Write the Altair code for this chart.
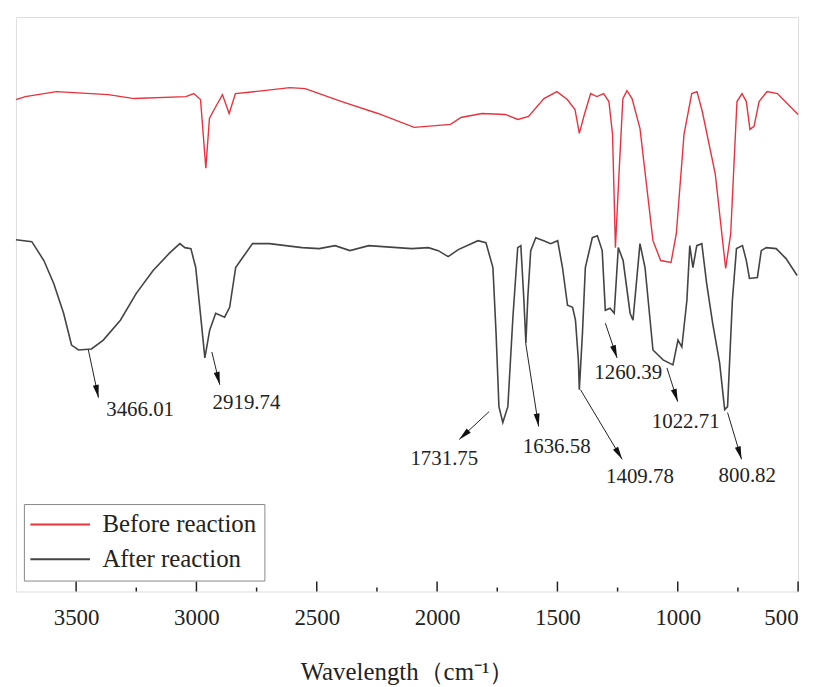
import altair as alt
import pandas as pd

# ---- data (wavenumber cm-1, transmittance a.u.) ----
before_wn = [3750, 3711, 3582, 3366, 3259, 3044, 3011, 2983, 2961, 2946, 2924, 2892, 2864, 2838,
             2720, 2612, 2548, 2396, 2246, 2095, 1944, 1901, 1814, 1717, 1664, 1620, 1556, 1502,
             1459, 1427, 1409, 1388, 1362, 1336, 1308, 1286, 1271, 1259, 1243, 1228, 1211, 1190,
             1157, 1103, 1071, 1028, 1006, 974, 942, 920, 898, 844, 801, 780, 754, 733, 715, 700,
             683, 662, 629, 586, 500]
before_t = [495, 498, 503, 500, 496, 498, 501, 495, 426, 476, 486, 500, 481, 501,
            504, 507, 506, 493, 481, 467, 470, 477, 481, 480, 475, 478, 496, 503,
            495, 485, 461, 480, 501, 498, 501, 493, 460, 346, 426, 496, 504, 496,
            466, 353, 333, 331, 360, 460, 501, 503, 483, 420, 325, 360, 493, 501, 493, 465,
            468, 493, 503, 501, 480]

after_wn = [3750, 3684, 3634, 3593, 3552, 3519, 3490, 3436, 3387, 3316, 3250, 3180, 3110, 3069,
            3048, 3023, 3003, 2982, 2965, 2945, 2920, 2883, 2862, 2837, 2808, 2767, 2697, 2561,
            2490, 2424, 2362, 2284, 2106, 2036, 1995, 1954, 1912, 1830, 1797, 1768, 1755, 1743,
            1727, 1706, 1685, 1665, 1652, 1640, 1631, 1623, 1611, 1590, 1557, 1528, 1499, 1479,
            1458, 1437, 1425, 1413, 1409, 1396, 1384, 1355, 1334, 1314, 1301, 1281, 1264, 1247,
            1227, 1198, 1186, 1157, 1136, 1103, 1061, 1020, 999, 983, 962, 950, 937, 921, 900,
            880, 855, 826, 805, 793, 773, 756, 731, 715, 702, 669, 653, 632, 591, 550, 504]
after_t = [354, 352, 333, 310, 280, 248, 243, 244, 253, 273, 300, 323, 341, 350,
           346, 345, 326, 276, 235, 263, 280, 276, 286, 326, 336, 350, 350, 346,
           345, 348, 343, 348, 345, 346, 343, 337, 344, 353, 351, 326, 260, 186,
           170, 186, 276, 346, 348, 296, 250, 296, 343, 356, 353, 350, 353, 326,
           288, 286, 273, 233, 203, 260, 326, 356, 358, 343, 283, 285, 280, 346,
           333, 280, 273, 350, 326, 243, 233, 228, 253, 246, 293, 348, 326, 348, 350,
           310, 270, 230, 183, 186, 293, 345, 348, 333, 315, 316, 343, 346, 345, 335, 318]

series_names = ["Before reaction", "After reaction"]
series_colors = ["#e8323c", "#444444"]

peak_labels = ["3466.01", "2919.74", "1731.75", "1636.58", "1409.78", "1260.39", "1022.71", "800.82"]
arrow_x1 = [3449, 2936, 1784, 1632, 1404, 1301, 1045, 793]
arrow_y1 = [243, 241, 181, 250, 203, 270, 225, 180]
arrow_x2 = [3407, 2903, 1908, 1578, 1231, 1252, 1000, 735]
arrow_y2 = [195, 208, 153, 166, 133, 235, 191, 133]
arrow_angle = [168, 166, 227, 171, 149, 161, 162, 163]
label_x = [3234, 2792, 1970, 1503, 1157, 1206, 967, 711]
label_y = [183, 190, 133, 145, 115, 220, 171, 116]

major_ticks = [3500, 3000, 2500, 2000, 1500, 1000, 500]
minor_ticks = [3250, 2750, 2250, 1750, 1250, 750]

W, H = 787, 578
SERIF = "Liberation Serif"

df_before = pd.DataFrame({"wn": before_wn, "t": before_t, "series": series_names[0]})
df_after = pd.DataFrame({"wn": after_wn, "t": after_t, "series": series_names[1]})
df_arrows = pd.DataFrame({"x1": arrow_x1, "y1": arrow_y1, "x2": arrow_x2, "y2": arrow_y2,
                          "angle": arrow_angle})
df_labels = pd.DataFrame({"x": label_x, "y": label_y, "label": peak_labels})

xscale = alt.Scale(domain=[500, 3750], reverse=True, nice=False, zero=False)
yscale = alt.Scale(domain=[0, H], nice=False, zero=False)

xenc = alt.X("wn:Q", scale=xscale,
             axis=alt.Axis(values=major_ticks, format="d", ticks=False, grid=False,
                           domain=False, labelFont=SERIF, labelFontSize=23,
                           labelColor="#222", labelPadding=15,
                           title="Wavelength（cm⁻¹）", titleFont=SERIF, titleFontSize=25,
                           titleFontWeight="normal", titleColor="#222", titlePadding=31))
yenc = alt.Y("t:Q", scale=yscale, axis=None)
color = alt.Color("series:N",
                  scale=alt.Scale(domain=series_names, range=series_colors),
                  legend=alt.Legend(title=None, orient="none", legendX=8, legendY=490,
                                    direction="vertical", strokeColor="#888",
                                    padding=8, symbolType="M-3,0H3", symbolSize=400,
                                    symbolOffset=16, symbolStrokeWidth=2,
                                    symbolFillColor="transparent",
                                    labelFont=SERIF, labelFontSize=25, labelColor="#222",
                                    labelOffset=30, rowPadding=9,
                                    fillColor="white"))

after_line = alt.Chart(df_after).mark_line(strokeWidth=1.6).encode(x=xenc, y=yenc, color=color)
before_line = alt.Chart(df_before).mark_line(strokeWidth=1.4).encode(
    x=alt.X("wn:Q", scale=xscale), y=alt.Y("t:Q", scale=yscale), color=color)

arrows = alt.Chart(df_arrows).mark_rule(color="#222", strokeWidth=1).encode(
    x=alt.X("x1:Q", scale=xscale), y=alt.Y("y1:Q", scale=yscale),
    x2="x2:Q", y2="y2:Q")
heads = alt.Chart(df_arrows).mark_point(shape="M0,0L0.6,2.6L-0.6,2.6Z", filled=True,
                                        color="#111", size=100, opacity=1).encode(
    x=alt.X("x2:Q", scale=xscale), y=alt.Y("y2:Q", scale=yscale),
    angle=alt.Angle("angle:Q", scale=None))
labels = alt.Chart(df_labels).mark_text(font=SERIF, fontSize=21, color="#222").encode(
    x=alt.X("x:Q", scale=xscale), y=alt.Y("y:Q", scale=yscale), text="label:N")

df_major = pd.DataFrame({"v": major_ticks})
df_minor = pd.DataFrame({"v": minor_ticks})
major = alt.Chart(df_major).mark_rule(color="#222", strokeWidth=1.5).encode(
    x=alt.X("v:Q", scale=xscale), y=alt.value(H), y2=alt.value(H - 10))
minor = alt.Chart(df_minor).mark_rule(color="#222", strokeWidth=1.5).encode(
    x=alt.X("v:Q", scale=xscale), y=alt.value(H), y2=alt.value(H - 4))

chart = alt.layer(after_line, before_line, arrows, heads, labels, major, minor).properties(
    width=W, height=H, padding={"left": 4, "top": 7, "right": 10, "bottom": 5}
).configure_view(stroke="#222", strokeWidth=2).configure(background="white")

chart.save("out.html", embed_options={"renderer": "svg", "actions": False})
